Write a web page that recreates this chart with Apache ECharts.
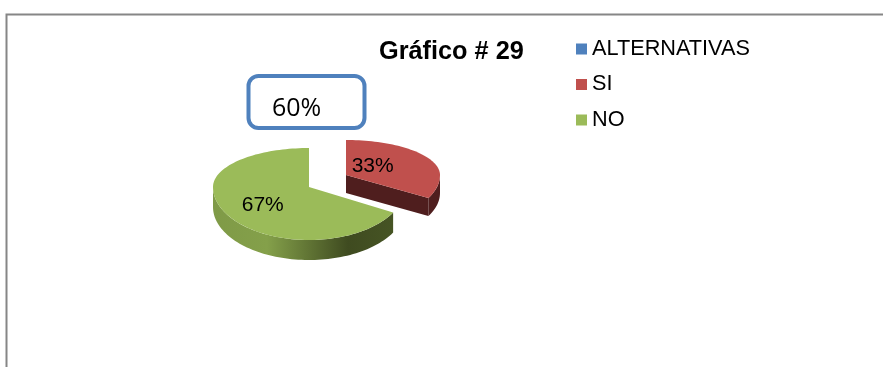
<!DOCTYPE html>
<html>
<head>
<meta charset="utf-8">
<style>html,body{margin:0;padding:0;background:#fff}#c{width:883px;height:367px}</style>
<script src="https://cdn.jsdelivr.net/npm/echarts@6/dist/echarts.min.js"></script>
</head>
<body>
<div id="c"></div>
<script>
const titleText = 'Gráfico # 29';
const legendNames = ['ALTERNATIVAS', 'SI', 'NO'];
const legendColors = ['#4f81bd', '#c0504d', '#9bbb59'];
const alternativasValues = [];
const siValues = [33];
const noValues = [67];
const calloutText = '60%';

const total = siValues[0] + noValues[0];
const FONT = '"Liberation Sans", Arial, sans-serif';

// Projection of each slice's top face: apex, horizontal radius, upper / lower vertical radius, depth
const pieView = {
  SI: { cx: 346, cy: 175, rx: 94, ryU: 35, ryL: 48, depth: 18, labelKx: 0.33, labelKy: 0.5, sideColor: '#4f1e1e' },
  NO: { cx: 309, cy: 187, rx: 96, ryU: 39, ryL: 53, depth: 20, labelKx: 0.56, labelKy: 0.66 }
};

function project(v, deg, drop) {
  const a = deg * Math.PI / 180, c = Math.cos(a);
  return [v.cx + v.rx * Math.sin(a), v.cy - (c > 0 ? v.ryU : v.ryL) * c + (drop || 0)];
}
function arc(v, from, to, drop) {
  const pts = [];
  const n = Math.max(2, Math.ceil(Math.abs(to - from) / 2));
  for (let i = 0; i <= n; i++) pts.push(project(v, from + (to - from) * i / n, drop));
  return pts;
}

function sliceRenderer(name, startFrac, color, sideFill) {
  return function (params, api) {
    const v = pieView[name];
    const frac = api.value(0) / total;
    const a0 = startFrac * 360, a1 = a0 + frac * 360;
    const children = [];
    // visible rim: the part of the arc facing the viewer (90deg..270deg)
    const r0 = Math.max(a0, 90), r1 = Math.min(a1, 270);
    if (r1 > r0) {
      const top = arc(v, r0, r1, 0);
      const bot = arc(v, r1, r0, v.depth);
      children.push({ type: 'polygon', shape: { points: top.concat(bot) }, style: { fill: sideFill } });
    }
    // cut face visible for the slice whose end edge faces the viewer
    if (name === 'SI') {
      const e = project(v, a1, 0);
      children.push({
        type: 'polygon',
        shape: { points: [[v.cx, v.cy], e, [e[0], e[1] + v.depth], [v.cx, v.cy + v.depth]] },
        style: { fill: v.sideColor }
      });
    }
    // top face
    const face = [[v.cx, v.cy]].concat(arc(v, a0, a1, 0));
    children.push({ type: 'polygon', shape: { points: face }, style: { fill: color } });
    // percentage label
    const mid = project(v, (a0 + a1) / 2, 0);
    children.push({
      type: 'text',
      x: v.cx + (mid[0] - v.cx) * v.labelKx,
      y: v.cy + (mid[1] - v.cy) * v.labelKy,
      style: {
        text: Math.round(frac * 100) + '%',
        fill: '#000',
        font: '21px ' + FONT,
        align: 'center',
        verticalAlign: 'middle'
      }
    });
    return { type: 'group', children: children };
  };
}

const greenRim = {
  type: 'linear', x: 0, y: 0, x2: 1, y2: 0,
  colorStops: [
    { offset: 0, color: '#7f9a47' },
    { offset: 0.3, color: '#84a04a' },
    { offset: 0.75, color: '#3f4b20' },
    { offset: 1, color: '#465424' }
  ]
};

const option = {
  animation: false,
  backgroundColor: '#fff',
  title: {
    text: titleText, left: 379, top: 40,
    textStyle: { fontFamily: FONT, fontSize: 25.3, fontWeight: 'bold', color: '#000' },
    padding: 0
  },
  legend: {
    orient: 'vertical', left: 576, top: 38, padding: 0,
    itemWidth: 11, itemHeight: 11, itemGap: 13.5, icon: 'rect',
    data: legendNames,
    textStyle: { fontFamily: FONT, fontSize: 21.7, color: '#000', padding: [0, 0, 0, 0] }
  },
  graphic: [
    { type: 'polyline', silent: true, shape: { points: [[6.5, 367], [6.5, 14.5], [883, 14.5]] },
      style: { stroke: '#868686', lineWidth: 2, fill: 'none' } },
    { type: 'rect', silent: true, shape: { x: 248.5, y: 76, width: 116, height: 52, r: 10 },
      style: { fill: '#fff', stroke: '#4f81bd', lineWidth: 4 } },
    { type: 'text', silent: true, x: 272, y: 109,
      style: { text: calloutText, fill: '#000', font: '25px "Open Sans", sans-serif', align: 'left', verticalAlign: 'middle' } }
  ],
  series: [
    { name: legendNames[0], type: 'custom', coordinateSystem: 'none', data: alternativasValues,
      itemStyle: { color: legendColors[0] }, renderItem: function () { return { type: 'group', children: [] }; } },
    { name: legendNames[2], type: 'custom', coordinateSystem: 'none', data: noValues.map(v => [v]), z: 2,
      itemStyle: { color: legendColors[2] }, encode: { value: 0 },
      renderItem: sliceRenderer('NO', siValues[0] / total, legendColors[2], greenRim) },
    { name: legendNames[1], type: 'custom', coordinateSystem: 'none', data: siValues.map(v => [v]), z: 3,
      itemStyle: { color: legendColors[1] }, encode: { value: 0 },
      renderItem: sliceRenderer('SI', 0, legendColors[1], '#4f1e1e') }
  ]
};
echarts.init(document.getElementById('c'), null, { renderer: 'canvas' }).setOption(option);
</script>
</body>
</html>
